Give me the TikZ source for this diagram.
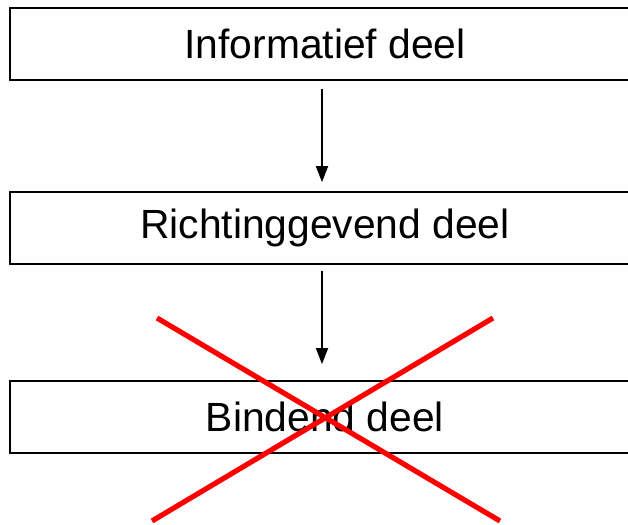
\documentclass[tikz,border=0pt]{standalone}
\usepackage{fontspec}
\setmainfont{Liberation Sans}
\usetikzlibrary{arrows.meta}
\begin{document}
\begin{tikzpicture}[x=0.5pt,y=-0.5pt]
        \useasboundingbox (0,0) rectangle (628,525);
        \tikzstyle{every node}=[draw,line width=0.9pt,shape=rectangle,minimum width=315pt,minimum height=36pt,inner sep=0pt,font=\fontsize{20.4}{24}\selectfont]
        \tikzstyle{flow}=[line width=0.9pt,-{Triangle[width=6pt,length=8pt]}]
        \tikzstyle{cross}=[color=red,line width=2.6pt]
            \node (info) at (325,44) {Informatief deel};
            \node (richt) at (325,228) {Richtinggevend deel};
            \node (bind) at (325,417) {Bindend deel};

            \coordinate (x1) at (157,318);
            \coordinate (x2) at (500,521);
            \coordinate (x3) at (493,318);
            \coordinate (x4) at (152,521);

            \draw[flow,shorten <=4pt,shorten >=4.5pt] ([xshift=-1.5pt]info.south) -- ([xshift=-1.5pt]richt.north);
            \draw[flow,shorten <=3pt,shorten >=8pt] ([xshift=-1.5pt]richt.south) -- ([xshift=-1.5pt]bind.north);

            \draw[cross] (x1) -- (x2)
            (x3) -- (x4)
            ;
        \end{tikzpicture}
\end{document}
